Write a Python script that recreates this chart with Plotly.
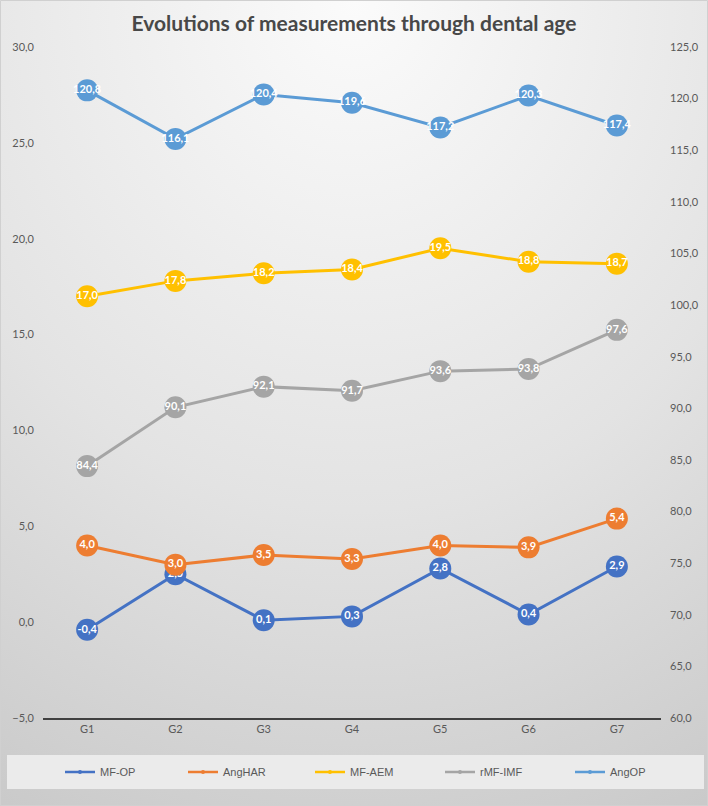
import base64
import plotly.graph_objects as go

categories = ["G1", "G2", "G3", "G4", "G5", "G6", "G7"]
mf_op = [-0.4, 2.5, 0.1, 0.3, 2.8, 0.4, 2.9]
ang_har = [4.0, 3.0, 3.5, 3.3, 4.0, 3.9, 5.4]
mf_aem = [17.0, 17.8, 18.2, 18.4, 19.5, 18.8, 18.7]
rmf_imf = [84.4, 90.1, 92.1, 91.7, 93.6, 93.8, 97.6]
ang_op = [120.8, 116.1, 120.4, 119.6, 117.2, 120.3, 117.4]

left_ticks = [-5, 0, 5, 10, 15, 20, 25, 30]
right_ticks = [60, 65, 70, 75, 80, 85, 90, 95, 100, 105, 110, 115, 120, 125]

series = [
    ("MF-OP", mf_op, "#4472C4", "y"),
    ("AngHAR", ang_har, "#ED7D31", "y"),
    ("MF-AEM", mf_aem, "#FFC000", "y"),
    ("rMF-IMF", rmf_imf, "#A5A5A5", "y2"),
    ("AngOP", ang_op, "#5B9BD5", "y2"),
]

W, H = 708, 806
L, R, T, B = 43, 47, 47, 88
pw, ph = W - L - R, H - T - B

FONT = "Lato, 'Open Sans', sans-serif"

def px_x(x):
    return (x - L) / pw

def px_y(y):
    return (H - B - y) / ph

legend_starts = [60, 183, 310, 440, 570]
legend_ids = ["legend", "legend2", "legend3", "legend4", "legend5"]

fig = go.Figure()
for name, vals, color, ax in series:
    fig.add_trace(go.Scatter(
        x=categories, y=vals, yaxis=ax, name=name, showlegend=False,
        mode="lines+markers+text",
        line=dict(color=color, width=3),
        marker=dict(size=22, color=color),
        texttemplate="%{y:.1f}", textposition="middle center",
        textfont=dict(color="white", size=11, family=FONT, weight="bold"),
        cliponaxis=False, hoverinfo="skip",
    ))
for (name, vals, color, ax), lid in zip(series, legend_ids):
    fig.add_trace(go.Scatter(
        x=[None], y=[None], yaxis=ax, name=name, mode="lines+markers",
        line=dict(color=color, width=2.5), marker=dict(size=4, color=color),
        showlegend=True, legend=lid,
    ))

svg = (
    '<svg xmlns="http://www.w3.org/2000/svg" width="708" height="806">'
    '<defs><radialGradient id="g" cx="50%" cy="0%" r="115%" fx="50%" fy="0%">'
    '<stop offset="0%" stop-color="#fbfbfb"/>'
    '<stop offset="55%" stop-color="#e3e3e3"/>'
    '<stop offset="100%" stop-color="#c8c8c8"/>'
    '</radialGradient></defs>'
    '<rect width="708" height="806" fill="url(#g)"/></svg>'
)
src = "data:image/svg+xml;base64," + base64.b64encode(svg.encode()).decode()

fig.add_layout_image(dict(
    source=src, xref="paper", yref="paper",
    x=px_x(0), y=px_y(0), sizex=W / pw, sizey=H / ph,
    xanchor="left", yanchor="top", sizing="stretch", layer="below",
))

fig.add_shape(type="rect", xref="paper", yref="paper",
              x0=px_x(7), x1=px_x(704), y0=px_y(755), y1=px_y(789),
              fillcolor="#ebebeb", line=dict(width=0), layer="below")
fig.add_shape(type="rect", xref="paper", yref="paper",
              x0=px_x(0.5), x1=px_x(707.5), y0=px_y(0.5), y1=px_y(805.5),
              fillcolor="rgba(0,0,0,0)", line=dict(color="#d0d0d0", width=1),
              layer="below")

legend_layouts = {}
for lid, xs in zip(legend_ids, legend_starts):
    legend_layouts[lid] = dict(
        orientation="h", x=px_x(xs), xanchor="left",
        y=px_y(772), yanchor="middle",
        bgcolor="rgba(0,0,0,0)",
        font=dict(size=11, color="#595959", family="'Liberation Sans', Arial, sans-serif"),
        itemclick=False, itemdoubleclick=False, itemwidth=30,
    )

fig.update_layout(
    width=W, height=H,
    margin=dict(l=L, r=R, t=T, b=B, autoexpand=False),
    paper_bgcolor="white", plot_bgcolor="rgba(0,0,0,0)",
    separators=",.",
    font=dict(family=FONT, color="#595959", size=11),
    title=dict(text="Evolutions of measurements through dental age",
               x=0.5, xanchor="center", y=1 - 24 / H, yanchor="middle",
               font=dict(size=21, color="#484848", family=FONT, weight="bold")),
    xaxis=dict(type="category", range=[-0.5, 6.5], showgrid=False,
               showline=True, linecolor="#404040", linewidth=1.5,
               ticks="", tickfont=dict(size=11, color="#595959"),
               zeroline=False, fixedrange=True, automargin=False),
    yaxis=dict(range=[-5, 30], tickvals=left_ticks, tickformat=".1f",
               showgrid=False, zeroline=False, showline=False, ticks="",
               ticklabelstandoff=8, automargin=False,
               tickfont=dict(size=11, color="#595959")),
    yaxis2=dict(range=[60, 125], tickvals=right_ticks, tickformat=".1f",
                overlaying="y", side="right", showgrid=False, zeroline=False,
                showline=False, ticks="", ticklabelstandoff=8, automargin=False,
                tickfont=dict(size=11, color="#595959")),
    showlegend=True,
    **legend_layouts,
)

fig.write_html("out.html", config={"displayModeBar": False},
               post_script="document.body.style.margin='0';")
